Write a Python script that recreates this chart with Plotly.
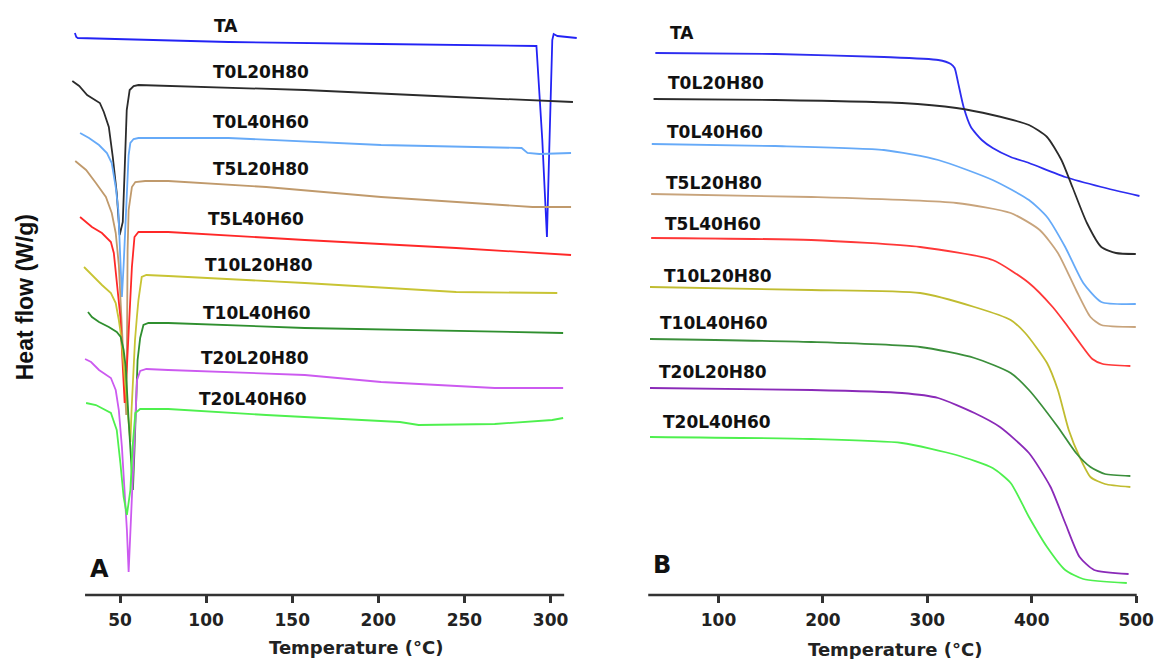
import plotly.graph_objects as go

# ---------------- Panel A : DSC (temperature in °C, heat flow offset, arbitrary units) ----------------
dsc_TA_T = [23.8, 24.6, 25.5, 113.0, 201.6, 291.8, 295.2, 297.9, 299.0, 300.1, 301.0, 301.8, 304.0, 315.2]
dsc_TA_HF = [562, 558, 557, 553, 551, 549, 455, 358, 430, 495, 555, 561, 559, 557]

dsc_T0L20H80_T = [22.3, 26.3, 30.9, 34.9, 38.3, 40.6, 43.5, 45.8, 48.1, 49.8, 51.6, 52.7, 53.9, 55.6, 57.9, 60.7, 78.0, 157.3, 245.2, 313.0]
dsc_T0L20H80_HF = [514, 509, 500, 496, 492, 483, 468, 438, 402, 360, 373, 425, 485, 505, 509, 510, 509, 505, 498, 493]

dsc_T0L40H60_T = [26.8, 32.0, 37.8, 42.4, 45.2, 47.5, 49.0, 49.8, 50.4, 51.1, 52.1, 53.1, 54.0, 55.0, 56.0, 57.9, 60.7, 78.0, 113.0, 201.6, 283.2, 286.6, 293.5, 311.9]
dsc_T0L40H60_HF = [462, 457, 450, 442, 432, 408, 385, 355, 328, 298, 330, 368, 418, 440, 452, 456, 457, 457, 457, 450, 447, 442, 441, 442]

dsc_T5L20H80_T = [24.0, 30.3, 36.0, 41.8, 45.2, 47.5, 49.3, 50.4, 51.6, 52.7, 53.6, 54.1, 54.4, 55.0, 56.9, 58.9, 64.6, 78.0, 134.9, 201.6, 289.5, 311.9]
dsc_T5L20H80_HF = [434, 425, 412, 398, 382, 362, 330, 295, 255, 210, 180, 265, 345, 385, 408, 413, 414, 414, 408, 398, 388, 388]

dsc_T5L40H60_T = [26.8, 33.7, 39.5, 44.7, 46.4, 48.3, 50.2, 51.1, 52.1, 52.7, 53.9, 55.6, 56.9, 58.4, 60.7, 78.0, 157.3, 245.2, 311.9]
dsc_T5L40H60_HF = [378, 368, 362, 353, 342, 312, 278, 245, 212, 192, 225, 278, 328, 358, 363, 363, 355, 347, 340]

dsc_T10L20H80_T = [29.1, 33.7, 39.5, 44.7, 47.5, 49.3, 50.4, 52.1, 53.9, 56.0, 56.7, 57.6, 58.7, 59.8, 60.7, 62.6, 65.3, 78.0, 157.3, 245.2, 303.9]
dsc_T10L20H80_HF = [328, 320, 310, 302, 292, 275, 262, 230, 195, 153, 185, 225, 255, 278, 295, 318, 320, 319, 312, 303, 302]

dsc_T10L40H60_T = [31.4, 33.7, 37.8, 43.5, 48.1, 50.4, 52.1, 53.3, 55.0, 57.5, 58.4, 59.3, 60.2, 61.7, 63.6, 66.5, 78.0, 157.3, 307.3]
dsc_T10L40H60_HF = [283, 278, 273, 268, 263, 258, 245, 228, 175, 105, 145, 195, 235, 257, 270, 272, 272, 267, 262]

dsc_T20L20H80_T = [29.7, 33.2, 37.8, 42.4, 44.7, 47.5, 49.3, 51.1, 53.1, 54.0, 55.0, 56.0, 57.3, 58.4, 59.3, 59.9, 61.7, 65.3, 78.0, 157.3, 201.6, 267.6, 307.3]
dsc_T20L20H80_HF = [236, 233, 225, 220, 217, 205, 185, 148, 98, 65, 23, 65, 115, 165, 200, 215, 224, 226, 225, 220, 213, 207, 207]

dsc_T20L40H60_T = [30.3, 36.0, 44.7, 48.1, 50.2, 52.1, 54.0, 56.0, 57.3, 58.9, 61.7, 78.0, 134.9, 212.5, 223.4, 267.6, 301.0, 307.3]
dsc_T20L40H60_HF = [192, 190, 182, 165, 132, 98, 80, 105, 148, 182, 186, 186, 180, 173, 170, 171, 175, 177]

# ---------------- Panel B : TGA (temperature in °C, mass signal offset, arbitrary units) ----------------
tga_TA_T = [39.5, 154.2, 258.3, 310.4, 322.5, 326.1, 329.5, 334.7, 341.7, 352.1, 362.6, 379.8, 397.3, 432.0, 466.7, 503.1]
tga_TA_W = [542, 541, 538, 535, 531, 527, 512, 488, 468, 455, 447, 438, 432, 418, 408, 399]

tga_T0L20H80_T = [37.8, 154.2, 275.7, 327.8, 362.5, 397.3, 414.6, 428.4, 438.9, 452.8, 466.6, 480.6, 499.6]
tga_T0L20H80_W = [496, 495, 492, 487, 480, 470, 458, 435, 408, 372, 348, 342, 341]

tga_T0L40H60_T = [36.1, 154.2, 258.3, 310.4, 362.5, 397.3, 414.6, 432.0, 449.3, 466.6, 499.6]
tga_T0L40H60_W = [451, 449, 445, 435, 415, 395, 378, 348, 312, 293, 291]

tga_T5L20H80_T = [35.5, 188.9, 327.8, 379.8, 407.6, 425.0, 442.4, 456.2, 466.6, 499.6]
tga_T5L20H80_W = [401, 398, 392, 382, 365, 342, 305, 278, 270, 268]

tga_T5L40H60_T = [35.5, 188.9, 293.1, 362.5, 397.3, 420.0, 432.0, 446.0, 458.0, 468.0, 494.4]
tga_T5L40H60_W = [357, 355, 348, 335, 312, 288, 272, 252, 236, 231, 229]

tga_T10L20H80_T = [34.4, 188.9, 293.1, 345.1, 379.8, 393.7, 414.6, 425.0, 435.4, 445.8, 456.2, 470.1, 494.4]
tga_T10L20H80_W = [308, 305, 302, 288, 275, 262, 232, 205, 165, 138, 118, 111, 108]

tga_T10L40H60_T = [34.4, 188.9, 293.1, 345.1, 379.8, 397.3, 425.0, 442.4, 456.2, 470.1, 494.4]
tga_T10L40H60_W = [256, 253, 248, 237, 222, 205, 168, 142, 128, 121, 119]

tga_T20L20H80_T = [34.4, 188.9, 275.7, 310.4, 345.1, 369.5, 397.3, 418.0, 432.0, 445.8, 459.7, 492.7]
tga_T20L20H80_W = [207, 205, 202, 197, 182, 168, 142, 108, 72, 38, 25, 21]

tga_T20L40H60_T = [34.4, 188.9, 275.7, 327.8, 362.5, 379.8, 397.3, 414.6, 432.0, 449.3, 491.0]
tga_T20L40H60_W = [158, 156, 152, 140, 127, 112, 78, 48, 25, 16, 12]

series_names = ["TA", "T0L20H80", "T0L40H60", "T5L20H80", "T5L40H60",
                "T10L20H80", "T10L40H60", "T20L20H80", "T20L40H60"]
colors_A = ["#2323f5", "#2b2b2b", "#66aaf8", "#c09a6c", "#ff2828",
            "#c8c434", "#2f8f2f", "#cc5af0", "#4ef04e"]
colors_B = ["#2d2df0", "#2b2b2b", "#66aaf8", "#c8a47c", "#ff3838",
            "#c0bc30", "#3b8f3b", "#8a2ab8", "#4ef04e"]

# label anchor positions (layout placement for the series names)
labelA_T = [111.3, 131.7, 131.7, 131.7, 129.1, 130.6, 129.5, 128.4, 127.3]
labelA_Y = [569, 523, 473, 426, 376, 330, 282, 237, 196]
labelB_T = [64.7, 97.7, 96.2, 95.3, 94.3, 99.8, 96.0, 94.8, 98.3]
labelB_Y = [562, 512, 463, 412, 371, 319, 272, 223, 173]

ticksA = [50, 100, 150, 200, 250, 300]
ticksB = [100, 200, 300, 400, 500]

dsc = [(dsc_TA_T, dsc_TA_HF), (dsc_T0L20H80_T, dsc_T0L20H80_HF), (dsc_T0L40H60_T, dsc_T0L40H60_HF),
       (dsc_T5L20H80_T, dsc_T5L20H80_HF), (dsc_T5L40H60_T, dsc_T5L40H60_HF),
       (dsc_T10L20H80_T, dsc_T10L20H80_HF), (dsc_T10L40H60_T, dsc_T10L40H60_HF),
       (dsc_T20L20H80_T, dsc_T20L20H80_HF), (dsc_T20L40H60_T, dsc_T20L40H60_HF)]
tga = [(tga_TA_T, tga_TA_W), (tga_T0L20H80_T, tga_T0L20H80_W), (tga_T0L40H60_T, tga_T0L40H60_W),
       (tga_T5L20H80_T, tga_T5L20H80_W), (tga_T5L40H60_T, tga_T5L40H60_W),
       (tga_T10L20H80_T, tga_T10L20H80_W), (tga_T10L40H60_T, tga_T10L40H60_W),
       (tga_T20L20H80_T, tga_T20L20H80_W), (tga_T20L40H60_T, tga_T20L40H60_W)]

W = 1171.0


def px(x):
    return x / W


fig = go.Figure()
for name, (t, y), c in zip(series_names, dsc, colors_A):
    fig.add_trace(go.Scatter(x=t, y=y, mode="lines", name=name, xaxis="x", yaxis="y",
                             line=dict(color=c, width=1.8, shape="linear")))
for name, (t, y), c in zip(series_names, tga, colors_B):
    fig.add_trace(go.Scatter(x=t, y=y, mode="lines", name=name, xaxis="x2", yaxis="y2",
                             line=dict(color=c, width=1.8, shape="spline", smoothing=0.6)))

FONT_B = "DejaVu Sans"
annotations = []
for name, tx, ty in zip(series_names, labelA_T, labelA_Y):
    annotations.append(dict(x=tx, y=ty, xref="x", yref="y", text="<b>%s</b>" % name, showarrow=False,
                            font=dict(family=FONT_B, size=17, color="#111"), xanchor="center", yanchor="middle"))
for name, tx, ty in zip(series_names, labelB_T, labelB_Y):
    annotations.append(dict(x=tx, y=ty, xref="x2", yref="y2", text="<b>%s</b>" % name, showarrow=False,
                            font=dict(family=FONT_B, size=17, color="#111"), xanchor="center", yanchor="middle"))

annotations += [
    dict(x=px(101), y=0.0437, xref="paper", yref="paper", text="<b>A</b>", showarrow=False,
         font=dict(family=FONT_B, size=24, color="#111"), xanchor="center", yanchor="middle"),
    dict(x=px(669), y=0.0504, xref="paper", yref="paper", text="<b>B</b>", showarrow=False,
         font=dict(family=FONT_B, size=24, color="#111"), xanchor="center", yanchor="middle"),
    dict(x=px(360), y=-0.089, xref="paper", yref="paper", text="<b>Temperature (°C)</b>", showarrow=False,
         font=dict(family=FONT_B, size=18, color="#222"), xanchor="center", yanchor="middle"),
    dict(x=px(904), y=-0.092, xref="paper", yref="paper", text="<b>Temperature (°C)</b>", showarrow=False,
         font=dict(family=FONT_B, size=18, color="#222"), xanchor="center", yanchor="middle"),
    dict(x=px(25), y=0.50, xref="paper", yref="paper", text="<b>Heat flow (W/g)</b>", showarrow=False,
         textangle=-90, font=dict(family="Liberation Sans", size=23, color="#111"),
         xanchor="center", yanchor="middle"),
]

shapes = [
    dict(type="line", xref="x", yref="paper", x0=29.7, x1=307.9, y0=0, y1=0,
         line=dict(color="#333", width=2.5)),
    dict(type="line", xref="x2", yref="paper", x0=32.7, x1=500.5, y0=0, y1=0,
         line=dict(color="#333", width=2.5)),
]

xaxis_common = dict(showline=False, showgrid=False, zeroline=False, ticks="outside", ticklen=7,
                    tickwidth=2.5, tickcolor="#333", ticklabelstandoff=3,
                    tickfont=dict(family=FONT_B, size=17, color="#222", weight="bold"))
yaxis_common = dict(showline=False, showgrid=False, zeroline=False, showticklabels=False,
                    ticks="", range=[0, 595])

fig.update_layout(
    width=1171, height=659,
    margin=dict(l=0, r=0, t=0, b=64),
    paper_bgcolor="white", plot_bgcolor="white",
    showlegend=False,
    xaxis=dict(domain=[px(70.8), px(584.1)], range=[21, 316], tickvals=ticksA, anchor="y", **xaxis_common),
    yaxis=dict(domain=[0, 1], anchor="x", **yaxis_common),
    xaxis2=dict(domain=[px(652.1), px(1154.3)], range=[30, 506], tickvals=ticksB, anchor="y2",
                **xaxis_common),
    yaxis2=dict(domain=[0, 1], anchor="x2", **yaxis_common),
    annotations=annotations,
    shapes=shapes,
)

fig.write_html("out.html")
